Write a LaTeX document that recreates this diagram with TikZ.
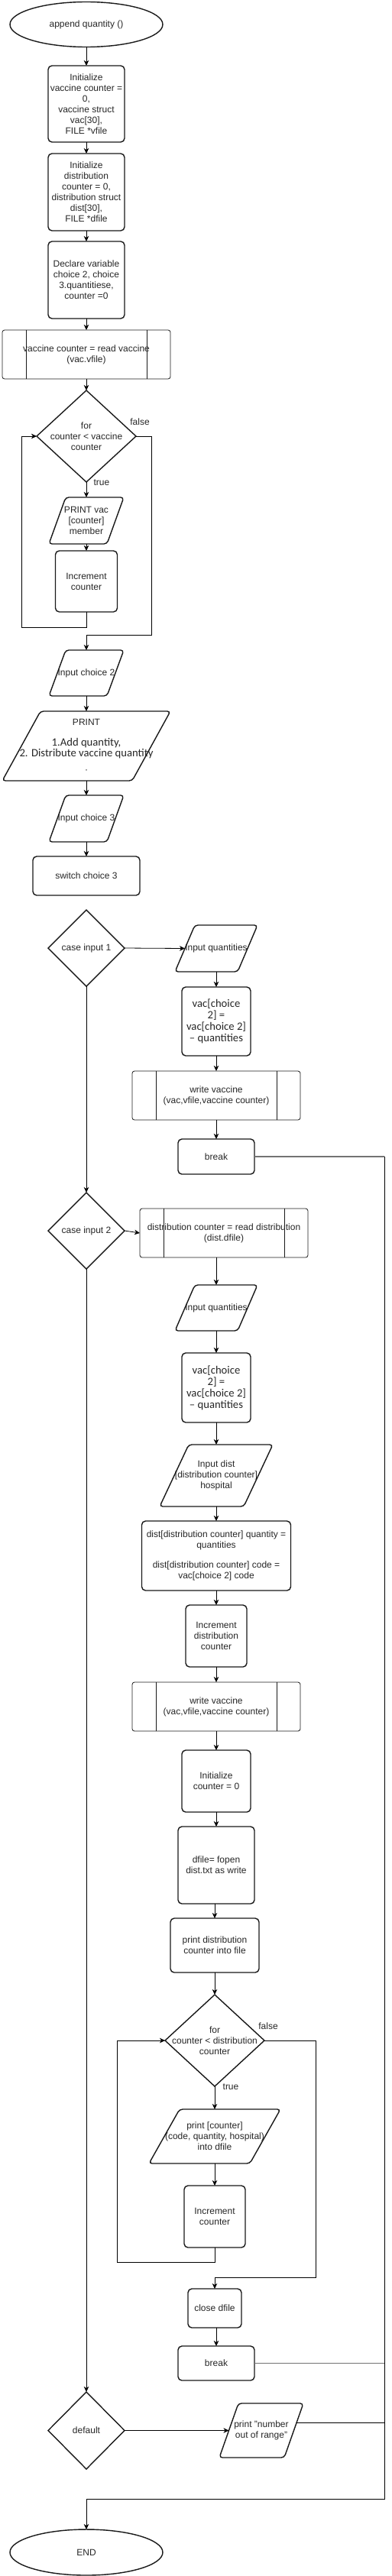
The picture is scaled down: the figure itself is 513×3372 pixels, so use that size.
\documentclass[tikz,border=0pt]{standalone}
\usepackage{fontspec}
\setmainfont{Liberation Sans}
\newfontfamily\carl{Carlito}
\usetikzlibrary{arrows.meta,shapes.geometric,calc}
\newcommand\parashape[2]{\draw[shp, rounded corners=4pt] (#1.south west) -- ([xshift=#2pt]#1.north west) -- (#1.north east) -- ([xshift=-#2pt]#1.south east) -- cycle;}
\newcommand\diashape[1]{\draw[shp, line join=miter] (#1.north) -- (#1.east) -- (#1.south) -- (#1.west) -- cycle;}
\begin{document}
\begin{tikzpicture}[x=1pt,y=-1pt,
  base/.style={inner sep=0pt, outer sep=0pt, align=center, font=\fontsize{12}{14}\selectfont, text=black!85},
  sz/.style 2 args={minimum width=#1pt, minimum height=#2pt},
  rbox/.style={base, draw=black!90, line width=1.4pt, rounded corners=5pt},
  plain/.style={base},
  sub/.style={base, draw=black!90, line width=0.8pt, rounded corners=3pt, minimum width=220pt, minimum height=64pt,
    path picture={
      \draw[line width=0.8pt] ([xshift=31pt]path picture bounding box.north west) -- ([xshift=31pt]path picture bounding box.south west);
      \draw[line width=0.8pt] ([xshift=-31pt]path picture bounding box.north east) -- ([xshift=-31pt]path picture bounding box.south east);}},
  ell/.style={base, draw=black!90, line width=1.4pt, ellipse, minimum width=200pt, minimum height=59pt},
  shp/.style={draw=black!90, line width=1.4pt},
  arr/.style={draw=black, line width=0.8pt, -{Stealth[length=7pt,width=6.5pt,inset=2pt]}},
  ln/.style={draw=black, line width=0.8pt},
  gln/.style={draw=black!55, line width=1.2pt},
  lbl/.style={font=\fontsize{12}{14}\selectfont, inner sep=0pt, text=black!85},
  cal/.style={font=\carl\fontsize{14.67}{15}\selectfont},
]
\useasboundingbox (0,0) rectangle (513,3372);

% ---- main column ----
\node[ell] (start) at (113,32) {append quantity ()};
\node[rbox, sz={100}{100}] (init1) at (113,136) {Initialize\\vaccine counter =\\0,\\vaccine struct\\vac[30],\\FILE *vfile};
\node[rbox, sz={100}{101}] (init2) at (113,251.5) {Initialize\\distribution\\counter = 0,\\distribution struct\\dist[30],\\FILE *dfile};
\node[rbox, sz={100}{101}] (decl) at (113,366.5) {Declare variable\\choice 2, choice\\3.quantitiese,\\counter =0};
\node[sub] (readvac) at (113,464) {vaccine counter = read vaccine\\(vac.vfile)};
\node[plain, sz={130}{120}] (for1) at (113,571) {for\\counter < vaccine\\counter};
\diashape{for1}
\node[plain, sz={98}{61}] (print1) at (113,681.5) {PRINT vac\\{[counter]}\\member};
\parashape{print1}{22}
\node[rbox, sz={81}{80}] (inc1) at (113,761) {Increment\\counter};
\node[plain, sz={98}{60}] (inpc2) at (113,881) {Input choice 2};
\parashape{inpc2}{22}
\node[plain, sz={220}{91}] (menu) at (113,976.5) {PRINT\\[13pt]\carl\fontsize{14.67}{15}\selectfont 1.Add quantity,\\\carl\fontsize{14.67}{15}\selectfont 2. Distribute vaccine quantity\\[8pt]\fontsize{7}{7}\selectfont "};
\parashape{menu}{50}
\node[plain, sz={98}{61}] (inpc3) at (113,1071.5) {Input choice 3};
\parashape{inpc3}{22}
\node[rbox, sz={140}{51}] (switch) at (113,1146.5) {switch choice 3};

% ---- case 1 ----
\node[plain, sz={100}{100}] (case1) at (113,1241) {case input 1};
\diashape{case1}
\node[plain, sz={108}{61}] (iq1) at (283,1241.5) {Input quantities};
\parashape{iq1}{26}
\node[rbox, sz={90}{90}, cal] (vac1) at (283,1337) {vac[choice\\2] =\\vac[choice 2]\\– quantities};
\node[sub] (wv1) at (283,1434) {write vaccine\\(vac,vfile,vaccine counter)};
\node[rbox, sz={100}{46}] (brk1) at (283,1514) {break};

% ---- case 2 ----
\node[plain, sz={100}{100}] (case2) at (113,1611) {case input 2};
\diashape{case2}
\node[sub] (rd) at (293,1614) {distribution counter = read distribution\\(dist.dfile)};
\node[plain, sz={108}{60}] (iq2) at (283,1712) {Input quantities};
\parashape{iq2}{26}
\node[rbox, sz={90}{91}, cal] (vac2) at (283,1816.5) {vac[choice\\2] =\\vac[choice 2]\\– quantities};
\node[plain, sz={148}{81}] (idist) at (283,1931.5) {Input dist\\{[distribution counter]}\\hospital};
\parashape{idist}{38}
\node[rbox, sz={195}{91}] (dist) at (283,2036.5) {dist[distribution counter] quantity =\\quantities\\[12pt]dist[distribution counter] code =\\vac[choice 2] code};
\node[rbox, sz={80}{81}] (incd) at (283,2141.5) {Increment\\distribution\\counter};
\node[sub] (wv2) at (283,2234) {write vaccine\\(vac,vfile,vaccine counter)};
\node[rbox, sz={90}{81}] (ic0) at (283,2331.5) {Initialize\\counter = 0};
\node[rbox, sz={100}{101}] (dfile) at (283,2441.5) {dfile= fopen\\dist.txt as write};
\node[rbox, sz={116}{71}] (pdc) at (281,2546.5) {print distribution\\counter into file};
\node[plain, sz={130}{120}] (for2) at (281,2671) {for\\counter < distribution\\counter};
\diashape{for2}
\node[plain, sz={172}{71}] (pc) at (281,2796.5) {print [counter]\\(code, quantity, hospital)\\into dfile};
\parashape{pc}{40}
\node[rbox, sz={80}{81}] (inc2) at (281,2901.5) {Increment\\counter};
\node[rbox, sz={70}{51}] (close) at (281,3021.5) {close dfile};
\node[rbox, sz={100}{45}] (brk2) at (283,3093.5) {break};

% ---- default ----
\node[plain, sz={100}{101}] (default) at (113,3181.5) {default};
\diashape{default}
\node[plain, sz={110}{71}] (pnum) at (342,3181.5) {print "number\\out of range"};
\parashape{pnum}{25}
\node[ell, minimum height=60pt] (end) at (113,3341) {END};

\coordinate (rail) at (503,1514);
\coordinate (railb) at (503,3271);

% ---- connectors ----
\draw[arr] (start.south) -- (init1.north);
\draw[arr] (init1.south) -- (init2.north);
\draw[arr] (init2.south) -- (decl.north);
\draw[arr] (decl.south) -- (readvac.north);
\draw[arr] (readvac.south) -- (for1.north);
\draw[arr] (for1.south) -- (print1.north);
\draw[arr] (print1.south) -- (inc1.north);
\draw[arr] (inc1.south) |- (28,821) |- (for1.west);
\draw[arr] (for1.east) -| (198,831) -| (inpc2.north);
\node[lbl] (t1) at (133,632) {true};
\node[lbl] (f1) at (183,552) {false};
\draw[arr] (inpc2.south) -- (menu.north);
\draw[arr] (menu.south) -- (inpc3.north);
\draw[arr] (inpc3.south) -- (switch.north);

\draw[arr] (case1.east) -- ([xshift=13pt]iq1.west);
\draw[arr] (iq1.south) -- (vac1.north);
\draw[arr] (vac1.south) -- (wv1.north);
\draw[arr] (wv1.south) -- (brk1.north);
\draw[gln] (brk1.east) -- (rail);
\draw[arr] (case1.south) -- (case2.north);

\draw[arr] (case2.east) -- (rd.west);
\draw[arr] (rd.south -| iq2.north) -- (iq2.north);
\draw[arr] (iq2.south) -- (vac2.north);
\draw[arr] (vac2.south) -- (idist.north);
\draw[arr] (idist.south) -- (dist.north);
\draw[arr] (dist.south) -- (incd.north);
\draw[arr] (incd.south) -- (wv2.north);
\draw[arr] (wv2.south) -- (ic0.north);
\draw[arr] (ic0.south) -- (dfile.north);
\draw[arr] (dfile.south -| pdc.north) -- (pdc.north);
\draw[arr] (pdc.south) -- (for2.north);
\draw[arr] (for2.south) -- (pc.north);
\node[lbl] (t2) at (302,2732) {true};
\node[lbl] (f2) at (351,2652) {false};
\draw[arr] (pc.south) -- (inc2.north);
\draw[arr] (inc2.south) |- (153,2961) |- (for2.west);
\draw[arr] (for2.east) -| (413,2981) -| (close.north);
\draw[arr] (close.south -| brk2.north) -- (brk2.north);
\draw[gln] (brk2.east) -- (brk2.east -| rail);
\draw[arr] (case2.south) -- (default.north);

\draw[arr] (default.east) -- ([xshift=12.5pt]pnum.west);
\draw[ln] ([xshift=-8.8pt,yshift=10.5pt]pnum.east) -- (503,3171);
\draw[arr] (rail) -- (railb) -| (end.north);
\end{tikzpicture}
\end{document}
